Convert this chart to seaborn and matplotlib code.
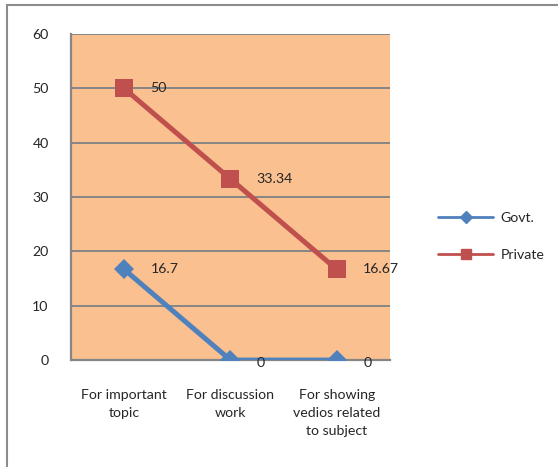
import matplotlib
matplotlib.use("Agg")
import matplotlib.pyplot as plt
from matplotlib.lines import Line2D
import seaborn as sns
import pandas as pd

categories = ["For important\ntopic", "For discussion\nwork", "For showing\nvedios related\nto subject"]
govt = [16.7, 0, 0]
private = [50, 33.34, 16.67]
govt_labels = ["16.7", "0", "0"]
private_labels = ["50", "33.34", "16.67"]
y_ticks = [0, 10, 20, 30, 40, 50, 60]

df = pd.DataFrame({
    "pos": list(range(len(categories))) * 2,
    "value": govt + private,
    "series": ["Govt."] * len(govt) + ["Private"] * len(private),
})

sns.set_style("white")
plt.rcParams["font.family"] = ["Lato", "DejaVu Sans"]
FS = 10.2

fig = plt.figure(figsize=(5.58, 4.67), dpi=100)
ax = fig.add_axes([0.127, 0.229, 0.572, 0.698])
ax.set_facecolor("#FAC090")

palette = {"Govt.": "#4F81BD", "Private": "#C0504D"}
markers = {"Govt.": "D", "Private": "s"}
sns.lineplot(data=df, x="pos", y="value", hue="series", style="series",
             palette=palette, markers=markers, dashes=False, linewidth=3.6,
             markersize=12, markeredgewidth=0, ax=ax, legend=False, zorder=3)
for line in ax.get_lines():
    if line.get_marker() == "s":
        line.set_markersize(13.5)
    elif line.get_marker() == "D":
        line.set_markersize(10)

grid_c = "#868686"
ax.set_ylim(0, 60)
ax.set_xlim(-0.5, len(categories) - 0.5)
ax.set_yticks(y_ticks)
ax.set_yticklabels([str(t) for t in y_ticks], fontsize=FS)
for t in y_ticks[1:]:
    ax.axhline(t, color=grid_c, linewidth=1.4, zorder=1)

ax.set_xticks(range(len(categories)))
ax.set_xticklabels(categories, fontsize=FS, linespacing=1.6)
ax.tick_params(axis="x", which="major", length=0, pad=21)
ax.set_xticks([i - 0.5 for i in range(len(categories) + 1)], minor=True)
ax.tick_params(axis="x", which="minor", length=5, width=1.3, color=grid_c, direction="out")
ax.tick_params(axis="y", length=6, width=1.3, color=grid_c, direction="out", pad=10)
ax.set_xlabel("")
ax.set_ylabel("")

for side in ["top", "right"]:
    ax.spines[side].set_visible(False)
for side in ["left", "bottom"]:
    ax.spines[side].set_color(grid_c)
    ax.spines[side].set_linewidth(1.6)

for i, (v, lab) in enumerate(zip(private, private_labels)):
    ax.annotate(lab, (i, v), xytext=(19, 0), textcoords="offset points",
                va="center", ha="left", fontsize=FS, zorder=4)
for i, (v, lab) in enumerate(zip(govt, govt_labels)):
    ax.annotate(lab, (i, v), xytext=(19, -2 if v == 0 else 0), textcoords="offset points",
                va="center", ha="left", fontsize=FS, zorder=4)

handles = [
    Line2D([], [], color=palette["Govt."], marker="D", markersize=6, linewidth=2),
    Line2D([], [], color=palette["Private"], marker="s", markersize=7.5, linewidth=2),
]
fig.legend(handles, ["Govt.", "Private"], loc="center left",
           bbox_to_anchor=(0.762, 0.493), frameon=False, fontsize=FS,
           handlelength=3.9, labelspacing=1.75, handletextpad=0.5)

# outer chart frame
fig.add_artist(Line2D([7 / 558, 7 / 558], [0, 1 - 5 / 467], transform=fig.transFigure,
                      color="#8c8c8c", linewidth=1.5))
fig.add_artist(Line2D([7 / 558, 1], [1 - 5 / 467, 1 - 5 / 467], transform=fig.transFigure,
                      color="#8c8c8c", linewidth=1.5))

fig.savefig("out.png", dpi=100)
